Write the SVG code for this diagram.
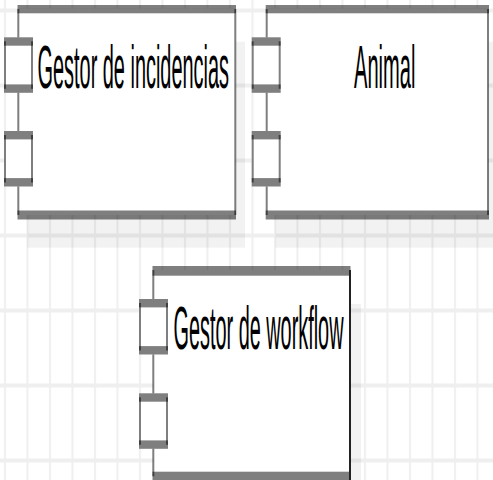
<svg xmlns="http://www.w3.org/2000/svg" xmlns:xlink="http://www.w3.org/1999/xlink" width="493" height="480" viewBox="0 0 493 480">
  <style>
    .s { fill: #000; fill-opacity: 0.5; }
    .w { fill: #fff; }
    .sh { fill: #000; fill-opacity: 0.05; }
    .t { font-family: "Liberation Sans", Arial, sans-serif; font-size: 20px; fill: #000; }
  </style>
  <defs>
    <pattern id="grid" patternUnits="userSpaceOnUse" x="0" y="0" width="22.5" height="75">
      <rect x="4" y="0" width="2" height="75" fill="#efefef"/>
      <rect x="0" y="8.5" width="22.5" height="4" fill="#efefef"/>
    </pattern>
    <g id="port">
      <rect class="w" x="0" y="0" width="29" height="55.5"/>
      <rect class="s" x="0" y="0" width="29" height="8.4"/>
      <rect class="s" x="0" y="47.1" width="29" height="8.4"/>
      <rect class="s" x="0" y="4" width="2" height="47.5"/>
      <rect class="s" x="27" y="4" width="2" height="47.5"/>
    </g>
  </defs>
  <rect x="0" y="0" width="493" height="480" fill="#fff"/>
  <rect x="0" y="0" width="493" height="480" fill="url(#grid)"/>

  <g id="shadows">
    <rect class="sh" x="27.3" y="41.7" width="217.7" height="206"/>
    <rect class="sh" x="275.3" y="41.7" width="223" height="206"/>
    <rect class="sh" x="161" y="304" width="200" height="200"/>
  </g>

  <g id="connectors"/>

  <g id="gestor-incidencias">
    <rect class="w" x="18.3" y="9" width="217" height="206"/>
    <rect class="s" x="17.5" y="5" width="218.5" height="8.3"/>
    <rect class="s" x="17.5" y="210.5" width="218.5" height="9"/>
    <rect class="s" x="17.3" y="9" width="2" height="32"/>
    <rect class="s" x="17.3" y="88" width="2" height="47"/>
    <rect class="s" x="17.3" y="182" width="2" height="33"/>
    <rect class="s" x="234.3" y="9" width="2" height="206"/>
    <use xlink:href="#port" x="4" y="37.3"/>
    <use xlink:href="#port" x="4" y="131"/>
    <text class="t" transform="translate(37.5,88.3) scale(1,3.1)" x="0" y="0" textLength="191.5" lengthAdjust="spacingAndGlyphs">Gestor de incidencias</text>
  </g>

  <g id="animal">
    <rect class="w" x="266.7" y="9" width="221.3" height="206"/>
    <rect class="s" x="265.7" y="5" width="223.3" height="8.3"/>
    <rect class="s" x="265.7" y="210.5" width="223.3" height="9"/>
    <rect class="s" x="265.7" y="9" width="2" height="32"/>
    <rect class="s" x="265.7" y="88" width="2" height="47"/>
    <rect class="s" x="265.7" y="182" width="2" height="33"/>
    <rect class="s" x="487" y="9" width="2" height="206"/>
    <use xlink:href="#port" x="251.7" y="37.3"/>
    <use xlink:href="#port" x="251.7" y="131"/>
    <text class="t" transform="translate(354,88.3) scale(1,3.1)" x="0" y="0" textLength="61.5" lengthAdjust="spacingAndGlyphs">Animal</text>
  </g>

  <g id="gestor-workflow">
    <rect class="w" x="153.5" y="270" width="196.5" height="210"/>
    <rect class="s" x="152.5" y="266" width="198" height="9.7"/>
    <rect class="s" x="152.5" y="471.7" width="198" height="9.3"/>
    <rect class="s" x="152.3" y="270" width="2" height="33"/>
    <rect class="s" x="152.3" y="350.5" width="2" height="47"/>
    <rect class="s" x="152.3" y="444.3" width="2" height="32"/>
    <rect x="349" y="270" width="2" height="210" fill="#222"/>
    <use xlink:href="#port" x="139" y="299"/>
    <use xlink:href="#port" x="139" y="393.3"/>
    <text class="t" transform="translate(173.5,349) scale(1,3.1)" x="0" y="0" textLength="170" lengthAdjust="spacingAndGlyphs">Gestor de workflow</text>
  </g>
</svg>
